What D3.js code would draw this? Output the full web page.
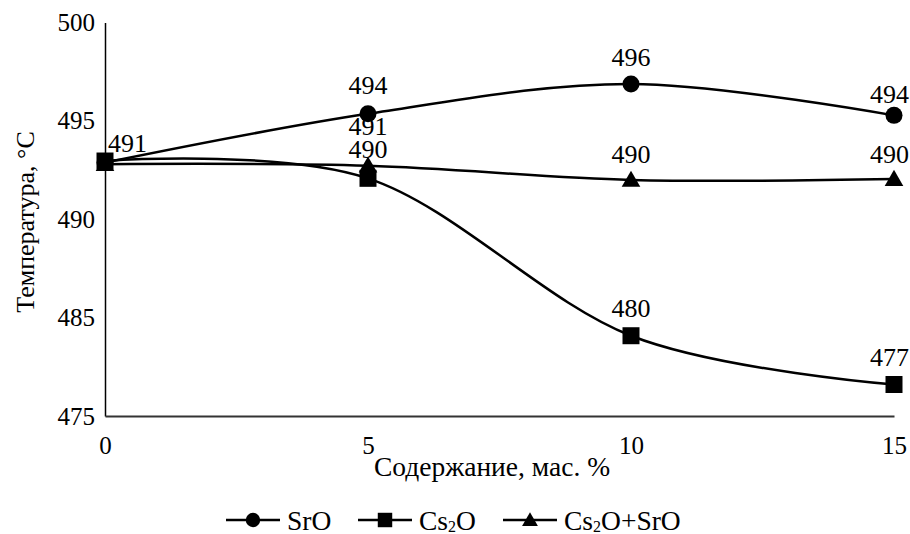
<!DOCTYPE html>
<html>
<head>
<meta charset="utf-8">
<script src="https://cdnjs.cloudflare.com/ajax/libs/d3/7.8.5/d3.min.js"></script>
<style>
  html, body { margin: 0; padding: 0; background: #fff; }
  svg { display: block; }
  svg text { font-family: "Liberation Serif", "Times New Roman", serif !important; fill: #000; }
</style>
</head>
<body>
<svg id="chart" width="910" height="534"></svg>
<script>
// ---- data ----
const contents = [0, 5, 10, 15];
const xTickValues = [0, 5, 10, 15];
const yTickLabels = ["500", "495", "490", "485", "475"];
const seriesNames = ["SrO", "Cs2O", "Cs2O+SrO"];
const srOValues = [491.1, 494.2, 496.1, 494.1];
const cs2OValues = [491.2, 490.1, 480.1, 477.0];
const cs2OSrOValues = [491.0, 490.9, 490.0, 490.05];
const srOLabels = ["491", "494", "496", "494"];
const cs2OLabels = ["", "491", "480", "477"];
const cs2OSrOLabels = ["", "490", "490", "490"];

// ---- layout ----
const W = 910, H = 534;
const plot = { left: 105, right: 894, top: 22.5, bottom: 416 };
const svg = d3.select("#chart");

const x = d3.scaleLinear().domain([0, 15]).range([plot.left, plot.right]);
const y = d3.scaleLinear().domain([475, 500]).range([plot.bottom, plot.top]);
const yLabelScale = d3.scalePoint().domain(yTickLabels).range([plot.top, plot.bottom]);

// axes
const yAxis = svg.append("g").attr("transform", `translate(${plot.left},0)`)
  .call(d3.axisLeft(yLabelScale).tickSize(0).tickPadding(10).tickSizeOuter(0));
yAxis.select(".domain").attr("stroke", "#000").attr("stroke-width", 1.5);
yAxis.selectAll("text").style("font-size", "25px");

const xAxis = svg.append("g").attr("transform", `translate(0,${plot.bottom})`)
  .call(d3.axisBottom(x).tickValues(xTickValues).tickSize(0).tickPadding(20).tickSizeOuter(0));
xAxis.select(".domain").attr("stroke", "#333").attr("stroke-width", 2);
xAxis.selectAll("text").style("font-size", "25px");

// axis titles
svg.append("text")
  .attr("transform", `translate(25,222) rotate(-90)`)
  .attr("text-anchor", "middle").attr("dominant-baseline", "central")
  .style("font-size", "26px").text("Температура, °C");
svg.append("text")
  .attr("x", 492).attr("y", 466)
  .attr("text-anchor", "middle").attr("dominant-baseline", "central")
  .style("font-size", "27.5px").text("Содержание, мас. %");

// series
const series = [
  { name: seriesNames[0], values: srOValues, labels: srOLabels, marker: "circle" },
  { name: seriesNames[1], values: cs2OValues, labels: cs2OLabels, marker: "square" },
  { name: seriesNames[2], values: cs2OSrOValues, labels: cs2OSrOLabels, marker: "triangle" }
];

const line = d3.line()
  .x((d, i) => x(contents[i]))
  .y(d => y(d))
  .curve(d3.curveCardinal.tension(0));

const symbolFor = {
  circle: d3.symbol().type(d3.symbolCircle).size(Math.PI * 8.5 * 8.5),
  square: d3.symbol().type(d3.symbolSquare).size(17 * 17),
  triangle: d3.symbol().type(d3.symbolTriangle).size(150)
};

series.forEach(s => {
  svg.append("path").datum(s.values)
    .attr("d", line).attr("fill", "none")
    .attr("stroke", "#000").attr("stroke-width", 2.5);
});
series.forEach(s => {
  svg.selectAll(null).data(s.values).enter().append("path")
    .attr("d", symbolFor[s.marker])
    .attr("transform", (d, i) => `translate(${x(contents[i])},${y(d) + (s.marker === "triangle" ? 1.5 : 0)})`)
    .attr("fill", "#000");
});

// data labels (placement tweaks only)
const labelDy = { "SrO": [-11, -20, -18, -12], "Cs2O": [0, -43, -18.5, -19], "Cs2O+SrO": [0, -8, -16.5, -16] };
series.forEach(s => {
  s.values.forEach((v, i) => {
    if (!s.labels[i]) return;
    const px = x(contents[i]), py = y(v);
    const t = svg.append("text").style("font-size", "26px").text(s.labels[i]);
    if (i === 0) {
      t.attr("x", px + 3).attr("y", py + labelDy[s.name][i]).attr("text-anchor", "start");
    } else {
      const w = t.node().getComputedTextLength();
      const cx = Math.min(px, W - 1 - w / 2);
      t.attr("x", cx).attr("y", py + labelDy[s.name][i]).attr("text-anchor", "middle");
    }
  });
});

// legend
const legendY = 520;
const legendItems = [
  { x0: 226, marker: "circle", text: ["SrO"] },
  { x0: 358, marker: "square", text: ["Cs", "2", "O"] },
  { x0: 503, marker: "triangle", text: ["Cs", "2", "O+SrO"] }
];
legendItems.forEach(it => {
  const g = svg.append("g");
  g.append("line").attr("x1", it.x0).attr("x2", it.x0 + 54)
    .attr("y1", legendY).attr("y2", legendY)
    .attr("stroke", "#000").attr("stroke-width", 2.5);
  g.append("path").attr("d", symbolFor[it.marker])
    .attr("transform", `translate(${it.x0 + 27},${legendY + (it.marker === "triangle" ? 1.5 : 0)}) scale(0.85)`)
    .attr("fill", "#000");
  const t = g.append("text").attr("x", it.x0 + 61).attr("y", legendY)
    .attr("dominant-baseline", "central").style("font-size", "27.5px");
  if (it.text.length === 1) {
    t.text(it.text[0]);
  } else {
    t.append("tspan").text(it.text[0]);
    t.append("tspan").style("font-size", "16px").attr("dy", 6).text(it.text[1]);
    t.append("tspan").attr("dy", -6).text(it.text[2]);
  }
});
</script>
</body>
</html>
